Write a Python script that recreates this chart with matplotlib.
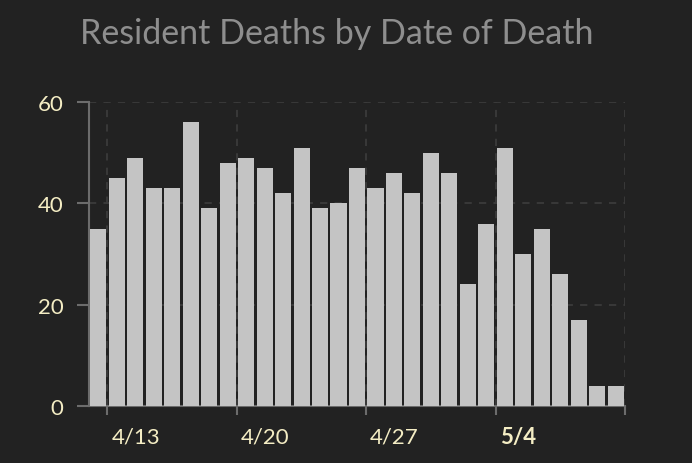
import numpy as np
import pandas as pd
import matplotlib
matplotlib.use('Agg')
import matplotlib.pyplot as plt
import matplotlib.dates as mdates
import matplotlib.transforms as mtransforms

# daily resident deaths, 4/12 .. 5/10
dates = pd.date_range('2020-04-12', '2020-05-10', freq='D')
deaths = [35, 45, 49, 43, 43, 56, 39, 48, 49, 47, 42, 51, 39, 40, 47,
          43, 46, 42, 50, 46, 24, 36, 51, 30, 35, 26, 17, 4, 4]
tick_dates = pd.to_datetime(['2020-04-13', '2020-04-20', '2020-04-27', '2020-05-04', '2020-05-11'])
tick_labels = ['4/13', '4/20', '4/27', '5/4', '']
y_ticks = [0, 20, 40, 60]

bg = '#222222'
txt = '#f4edc4'
axis_col = '#6c6c6c'
grid_col = '#3b3b3b'

plt.rcParams['font.family'] = ['Lato', 'DejaVu Sans']

fig = plt.figure(figsize=(6.92, 4.64), dpi=100, facecolor=bg)
ax = fig.add_axes([89 / 692, 57 / 464, 536 / 692, 304 / 464], facecolor=bg)

x = mdates.date2num(dates) + 0.5
ax.bar(x, deaths, width=0.87, color='#c4c4c4', zorder=3)

ax.set_xlim(mdates.date2num(pd.Timestamp('2020-04-12')), mdates.date2num(pd.Timestamp('2020-05-11')))
ax.set_ylim(0, 60)

ax.set_xticks(mdates.date2num(tick_dates))
ax.set_xticklabels(tick_labels)
ax.set_yticks(y_ticks)

ax.grid(True, color=grid_col, linestyle=(0, (4, 4)), linewidth=1.3, zorder=0)

for s in ['top', 'right']:
    ax.spines[s].set_visible(False)
for s in ['left', 'bottom']:
    ax.spines[s].set_color(axis_col)
    ax.spines[s].set_linewidth(1.5)

ax.tick_params(axis='y', colors=axis_col, length=8.5, width=1.5, pad=10,
               labelcolor=txt, labelsize=16)
ax.tick_params(axis='x', colors=axis_col, length=6.5, width=1.5, pad=8,
               labelcolor=txt, labelsize=16)

offset = mtransforms.ScaledTranslation(4 / 100, 0, fig.dpi_scale_trans)
for lab in ax.get_xticklabels():
    lab.set_horizontalalignment('left')
    lab.set_transform(lab.get_transform() + offset)
ax.get_xticklabels()[3].set_fontweight('bold')

fig.text(337 / 692, 1 - 34 / 464, 'Resident Deaths by Date of Death',
         ha='center', va='center', color='#8e8e8e', fontsize=24.5)

plt.savefig('out.png', dpi=100, facecolor=bg)
